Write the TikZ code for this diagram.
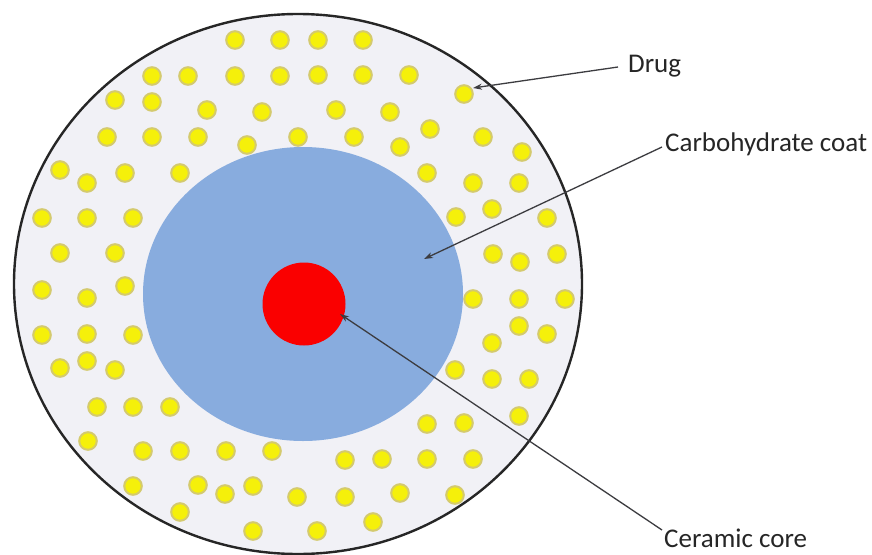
\documentclass[tikz,border=0pt]{standalone}
\usepackage{fontspec}
\setmainfont{Carlito}
\usetikzlibrary{arrows.meta}
\definecolor{shellgray}{RGB}{241,241,246}
\definecolor{coatblue}{RGB}{136,172,222}
\definecolor{corered}{RGB}{250,0,0}
\definecolor{dotfill}{RGB}{245,240,10}
\definecolor{dotedge}{RGB}{212,202,110}
\definecolor{linegray}{RGB}{60,60,64}
\tikzset{
  drugdot/.style={fill=dotfill, draw=dotedge, line width=2pt},
  pointer/.style={draw=linegray, line width=1.3pt, -{Stealth[length=9pt,width=6pt]}},
  labeltext/.style={inner sep=0pt, anchor=base west, text=black!85, font=\fontsize{27}{30}\selectfont}
}
\begin{document}
\begin{tikzpicture}[x=1pt,y=-1pt]
\useasboundingbox (0,0) rectangle (872,554);
\fill[white] (0,0) rectangle (872,554);
% outer shell
\draw[fill=shellgray, draw=black!85, line width=2.4pt] (298,284) ellipse [x radius=284, y radius=270];
% carbohydrate coat
\fill[coatblue] (303,294) ellipse [x radius=160, y radius=147];
% ceramic core
\fill[corered] (304,304) circle [radius=41.5];
% drug dots
\foreach \px/\py in {
 235/40,280/40,318/40,363/40,
 152/76,188/76,235/76,280/76,318/75,363/75,409/75,
 115/100,152/102,207/110,262/112,336/110,390/112,464/94,
 107/137,152/137,198/137,247/145,298/137,354/137,400/147,430/129,483/137,
 60/170,87/183,125/173,180/173,427/173,473/183,519/183,522/152,
 42/218,87/218,133/218,456/217,492/209,547/218,
 60/253,115/253,493/254,520/262,557/254,
 42/290,87/298,125/286,473/299,519/299,565/299,
 42/335,87/334,133/335,519/326,547/334,492/343,
 60/368,87/361,115/370,455/370,492/379,529/379,
 97/407,133/407,170/407,519/416,427/424,464/423,
 88/441,143/451,180/451,226/451,272/451,345/460,382/459,427/459,473/459,
 133/486,198/485,225/494,253/486,297/497,345/497,400/493,455/495,
 180/512,253/531,317/531,373/522}
  \draw[drugdot] (\px,\py) circle [radius=8.8];
% labels
\node[labeltext] (drug) at (628,72) {Drug};
\node[labeltext] (coat) at (665,151) {Carbohydrate coat};
\node[labeltext] (core) at (664,547) {Ceramic core};
% pointer ends
\coordinate (drugstart) at (618,67);
\coordinate (drugtip) at (473,88);
\coordinate (coatstart) at (662,147);
\coordinate (coattip) at (424,259);
\coordinate (corestart) at (662,530);
\coordinate (coretip) at (340,314);
\draw[pointer] (drugstart) -- (drugtip);
\draw[pointer] (coatstart) -- (coattip);
\draw[pointer] (corestart) -- (coretip);
\end{tikzpicture}
\end{document}
